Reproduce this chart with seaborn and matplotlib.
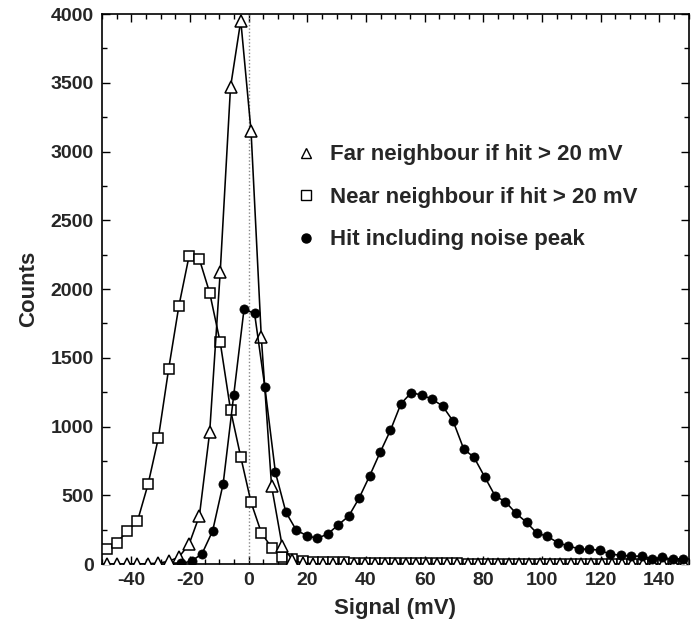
import matplotlib
matplotlib.use("Agg")
import matplotlib.pyplot as plt
from matplotlib.lines import Line2D
from matplotlib.ticker import MultipleLocator
import seaborn as sns
import pandas as pd

# ---- data ----
neighbour_signal = [-48.4, -44.9, -41.4, -37.9, -34.3, -30.8, -27.3, -23.8, -20.3, -16.8,
                    -13.3, -9.7, -6.2, -2.7, 0.8, 4.3, 7.8, 11.4, 14.9, 18.4,
                    21.9, 25.4, 28.9, 32.4, 36.0, 39.5, 43.0, 46.5, 50.0, 53.5,
                    57.0, 60.5, 64.1, 67.6, 71.1, 74.6, 78.1, 81.6, 85.1, 88.6,
                    92.2, 95.7, 99.2, 102.7, 106.2, 109.7, 113.2, 116.8, 120.3, 123.8,
                    127.3, 130.8, 134.3, 137.8, 141.3, 144.9, 148.4]
far_counts = [0, 0, 0, 0, 3, 6, 20, 50, 145, 351,
              958, 2126, 3467, 3952, 3149, 1649, 567, 133, 30, 6,
              2, 1, 1, 0, 0, 0, 0, 0, 0, 0,
              0, 0, 0, 0, 0, 0, 0, 0, 0, 0,
              0, 0, 0, 0, 0, 0, 0, 0, 0, 0,
              0, 0, 0, 0, 0, 0, 0]
near_counts = [107, 155, 240, 313, 580, 915, 1416, 1876, 2242, 2216,
               1973, 1612, 1122, 778, 449, 228, 119, 53, 36, 24,
               18, 15, 14, 12, 11, 10, 9, 8, 7, 6,
               6, 5, 5, 4, 4, 3, 3, 3, 2, 2,
               2, 2, 1, 1, 1, 1, 1, 1, 1, 1,
               0, 0, 0, 0, 0, 0, 0]
hit_signal = [-23.0, -19.4, -15.9, -12.3, -8.7, -5.1, -1.6, 2.0, 5.5, 9.1,
              12.7, 16.2, 19.8, 23.4, 26.9, 30.5, 34.1, 37.6, 41.2, 44.8,
              48.3, 51.9, 55.4, 59.0, 62.6, 66.1, 69.7, 73.3, 76.8, 80.4,
              84.0, 87.5, 91.1, 94.7, 98.2, 101.8, 105.4, 108.9, 112.5, 116.1,
              119.6, 123.2, 126.8, 130.3, 133.9, 137.5, 141.0, 144.6, 148.1]
hit_counts = [4, 22, 75, 240, 584, 1229, 1852, 1823, 1289, 667,
              376, 247, 206, 187, 218, 284, 349, 478, 640, 812,
              972, 1166, 1246, 1229, 1198, 1149, 1038, 836, 776, 635,
              495, 453, 369, 303, 225, 201, 155, 131, 111, 106,
              102, 71, 65, 56, 58, 39, 49, 34, 39]

labels = ["Far neighbour if hit > 20 mV",
          "Near neighbour if hit > 20 mV",
          "Hit including noise peak"]
x_ticks = [-40, -20, 0, 20, 40, 60, 80, 100, 120, 140]
y_ticks = [0, 500, 1000, 1500, 2000, 2500, 3000, 3500, 4000]

sns.set_style("ticks")
plt.rcParams["font.family"] = ["Liberation Sans", "DejaVu Sans"]
plt.rcParams["font.weight"] = "bold"
plt.rcParams["axes.unicode_minus"] = False

fig = plt.figure(figsize=(7.0, 6.26), dpi=100)
ax = fig.add_axes([0.1457, 0.0990, 0.8383, 0.8786])

ax.axvline(0, color="#888888", linestyle=(0, (1, 1.5)), linewidth=1.0, zorder=1)

far_df = pd.DataFrame({"signal": neighbour_signal, "counts": far_counts})
near_df = pd.DataFrame({"signal": neighbour_signal, "counts": near_counts})
hit_df = pd.DataFrame({"signal": hit_signal, "counts": hit_counts})

common = dict(color="black", linewidth=1.15, sort=False, estimator=None, ax=ax)
sns.lineplot(data=near_df, x="signal", y="counts", marker="s", markersize=7.0,
             markerfacecolor="white", markeredgecolor="black", markeredgewidth=1.1,
             zorder=3, **common)
sns.lineplot(data=far_df, x="signal", y="counts", marker="^", markersize=8.3,
             markerfacecolor="white", markeredgecolor="black", markeredgewidth=1.1,
             zorder=4, **common)
sns.lineplot(data=hit_df, x="signal", y="counts", marker="o", markersize=6.6,
             markerfacecolor="black", markeredgecolor="black", markeredgewidth=0.5,
             zorder=5, **common)

ax.set_xlim(-50, 150)
ax.set_ylim(0, 4000)
ax.set_xticks(x_ticks)
ax.set_yticks(y_ticks)
ax.xaxis.set_minor_locator(MultipleLocator(5))
ax.yaxis.set_minor_locator(MultipleLocator(250))
ax.tick_params(which="both", direction="in", top=True, right=True, color="black",
               labelsize=14, pad=6)
ax.tick_params(which="major", length=6, width=1.0)
ax.tick_params(which="minor", length=3.5, width=1.0)
for lab in ax.get_xticklabels() + ax.get_yticklabels():
    lab.set_fontweight("bold")
for sp in ax.spines.values():
    sp.set_visible(True)
    sp.set_linewidth(1.2)
    sp.set_color("black")

ax.set_xlabel("Signal (mV)", fontsize=16, fontweight="bold", labelpad=6)
ax.set_ylabel("Counts", fontsize=16, fontweight="bold", labelpad=8)

handles = [
    Line2D([], [], linestyle="none", marker="^", markersize=7, markerfacecolor="white",
           markeredgecolor="black", markeredgewidth=1.0),
    Line2D([], [], linestyle="none", marker="s", markersize=6.5, markerfacecolor="white",
           markeredgecolor="black", markeredgewidth=1.0),
    Line2D([], [], linestyle="none", marker="o", markersize=6.5, markerfacecolor="black",
           markeredgecolor="black"),
]
ax.legend(handles, labels, loc="upper left", bbox_to_anchor=(0.328, 0.763),
          frameon=False, handlelength=1.0, handletextpad=0.6, labelspacing=0.97,
          borderpad=0, borderaxespad=0,
          prop={"size": 16, "weight": "bold", "family": ["Liberation Sans", "DejaVu Sans"]})

fig.savefig("out.png", dpi=100)
